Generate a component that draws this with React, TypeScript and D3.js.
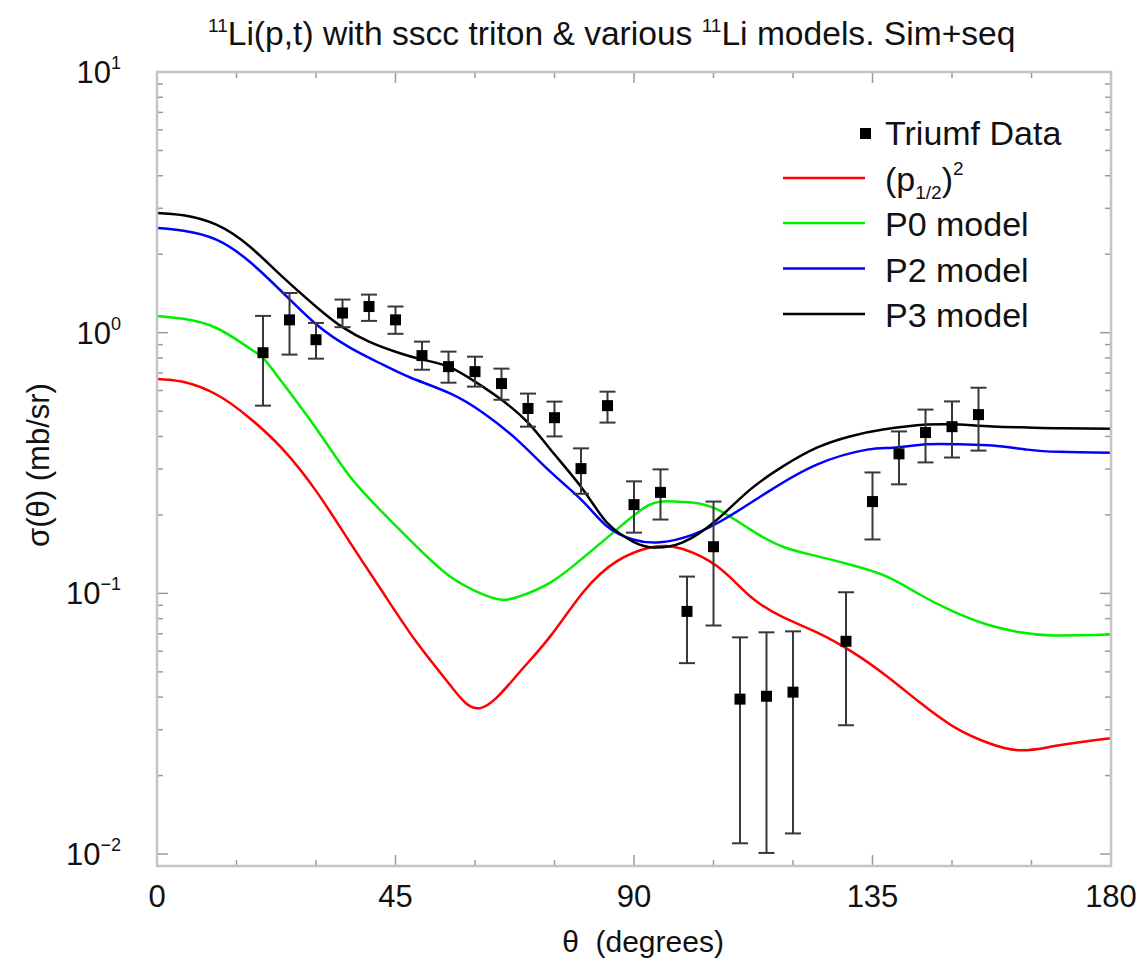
import React from "react";
import * as d3 from "d3";

// ---- data ----
const dataAngles = [20, 25, 30, 35, 40, 45, 50, 55, 60, 65, 70, 75, 80, 85, 90, 95, 100, 105, 110, 115, 120, 130, 135, 140, 145, 150, 155];
const dataValues = [0.838, 1.12, 0.94, 1.19, 1.26, 1.12, 0.817, 0.741, 0.709, 0.638, 0.512, 0.472, 0.301, 0.525, 0.219, 0.244, 0.0853, 0.151, 0.0393, 0.0403, 0.0418, 0.0655, 0.225, 0.343, 0.414, 0.436, 0.485];
const dataHigh = [1.16, 1.42, 1.09, 1.34, 1.40, 1.26, 0.924, 0.846, 0.809, 0.728, 0.584, 0.544, 0.360, 0.594, 0.269, 0.299, 0.116, 0.225, 0.0678, 0.0709, 0.0715, 0.101, 0.291, 0.418, 0.507, 0.545, 0.615];
const dataLow = [0.525, 0.824, 0.795, 1.05, 1.11, 0.99, 0.721, 0.643, 0.621, 0.553, 0.436, 0.400, 0.241, 0.452, 0.171, 0.192, 0.0540, 0.0753, 0.0110, 0.0101, 0.0120, 0.0312, 0.161, 0.262, 0.318, 0.332, 0.353];

const p3Angles = [0, 5, 11.3, 17.5, 23.8, 30.2, 35, 40, 45, 50, 55, 60, 65, 70, 74.2, 80.4, 84.9, 89.8, 93.6, 99.2, 105.7, 111.9, 118.1, 124.5, 130.7, 137, 145.3, 151.5, 157.7, 164.2, 170.4, 180];
const p3Values = [2.88, 2.82, 2.59, 2.14, 1.63, 1.25, 1.05, 0.924, 0.845, 0.789, 0.741, 0.649, 0.553, 0.452, 0.357, 0.25, 0.187, 0.158, 0.15, 0.157, 0.192, 0.25, 0.307, 0.362, 0.4, 0.425, 0.444, 0.444, 0.437, 0.433, 0.43, 0.428];

const p2Angles = [0, 5, 11.3, 17.5, 23.8, 30.2, 36.4, 42.6, 48, 55.3, 61.5, 67.9, 74.2, 80.4, 84.9, 89.8, 94.9, 101.1, 107.5, 115.1, 124.5, 134, 138.9, 145.3, 151.5, 157.7, 164.2, 170.4, 180];
const p2Values = [2.52, 2.46, 2.27, 1.87, 1.42, 1.07, 0.877, 0.754, 0.67, 0.585, 0.493, 0.389, 0.293, 0.225, 0.181, 0.161, 0.157, 0.168, 0.195, 0.244, 0.312, 0.356, 0.362, 0.373, 0.373, 0.369, 0.356, 0.349, 0.346];

const p0Angles = [0, 5, 11.3, 17.5, 20, 23, 30, 36.4, 42.6, 49, 55.3, 61.5, 65, 67.9, 74.2, 80.4, 86.8, 93, 97.7, 101, 105.7, 111.9, 118.1, 124.5, 130.7, 137.7, 143.9, 150.2, 156.6, 162.8, 169.1, 180];
const p0Values = [1.16, 1.13, 1.04, 0.87, 0.8, 0.67, 0.43, 0.281, 0.204, 0.151, 0.116, 0.0991, 0.0945, 0.0966, 0.11, 0.137, 0.176, 0.219, 0.225, 0.223, 0.21, 0.176, 0.151, 0.139, 0.129, 0.116, 0.099, 0.0853, 0.076, 0.0709, 0.069, 0.0695];

const p12Angles = [0, 4.9, 11.3, 17.5, 23.8, 30.2, 36.4, 42.6, 49, 55.3, 61, 67.9, 74.2, 80.4, 86.8, 93, 96, 99.2, 105.7, 111.9, 118.1, 124.5, 131.3, 137.7, 143.9, 150.2, 156.6, 162.8, 169.1, 175.5, 180];
const p12Values = [0.665, 0.648, 0.578, 0.47, 0.356, 0.244, 0.157, 0.101, 0.0649, 0.0445, 0.0363, 0.0485, 0.0684, 0.101, 0.133, 0.15, 0.152, 0.148, 0.127, 0.0975, 0.081, 0.0709, 0.0594, 0.0481, 0.0382, 0.0309, 0.0268, 0.025, 0.0259, 0.0271, 0.0278];

const xMajorTicks = [0, 45, 90, 135, 180];
const xMinorTicks = [15, 30, 60, 75, 105, 120, 150, 165];
const yMajorTicks = [0.01, 0.1, 1, 10];
const yTickExponents = ["−2", "−1", "0", "1"];

const seriesNames = ["P0 model", "P2 model", "P3 model"];

export default function App() {
  const W = 1140, H = 961;
  const left = 157, right = 1111, top = 72, bottom = 866;
  const x = d3.scaleLinear().domain([0, 180]).range([left, right]);
  const y = d3.scaleLog().domain([0.009, 10]).range([bottom, top]);
  const line = d3.line<[number, number]>()
    .x(d => x(d[0]))
    .y(d => y(d[1]))
    .curve(d3.curveNatural);
  const mk = (a: number[], v: number[]) => line(a.map((t, i) => [t, v[i]] as [number, number])) || "";

  const yMinor: number[] = [];
  [0.001, 0.01, 0.1, 1].forEach(base => {
    for (let k = 2; k <= 9; k++) {
      const v = base * k;
      if (v >= 0.009 && v <= 10) yMinor.push(v);
    }
  });

  const curves = [
    { a: p12Angles, v: p12Values, c: "#ff0000" },
    { a: p0Angles, v: p0Values, c: "#00ee00" },
    { a: p2Angles, v: p2Values, c: "#0000ff" },
    { a: p3Angles, v: p3Values, c: "#000000" },
  ];

  const tickColor = "#9a9a9a";
  const font = "'Liberation Sans', Arial, Helvetica, sans-serif";

  return (
    <svg width={W} height={H} style={{ position: "absolute", left: 0, top: 0, background: "#fff" }} fontFamily={font}>
      <rect x={0} y={0} width={W} height={H} fill="#fff" />
      {/* title */}
      <text x={208} y={45} fontSize={33.6} fill="#111">
        <tspan fontSize={19} dy={-13}>11</tspan>
        <tspan dy={13}>Li(p,t) with sscc triton &amp; various </tspan>
        <tspan fontSize={19} dy={-13}>11</tspan>
        <tspan dy={13}>Li models. Sim+seq</tspan>
      </text>

      {/* ticks */}
      <g stroke={tickColor} strokeWidth={1.5}>
        {xMajorTicks.map(t => (
          <g key={"xM" + t}>
            <line x1={x(t)} x2={x(t)} y1={bottom} y2={bottom - 11} />
            <line x1={x(t)} x2={x(t)} y1={top} y2={top + 11} />
          </g>
        ))}
        {xMinorTicks.map(t => (
          <g key={"xm" + t}>
            <line x1={x(t)} x2={x(t)} y1={bottom} y2={bottom - 6} />
            <line x1={x(t)} x2={x(t)} y1={top} y2={top + 6} />
          </g>
        ))}
        {yMajorTicks.map(t => (
          <g key={"yM" + t}>
            <line x1={left} x2={left + 11} y1={y(t)} y2={y(t)} />
            <line x1={right} x2={right - 11} y1={y(t)} y2={y(t)} />
          </g>
        ))}
        {yMinor.map(t => (
          <g key={"ym" + t}>
            <line x1={left} x2={left + 6} y1={y(t)} y2={y(t)} />
            <line x1={right} x2={right - 6} y1={y(t)} y2={y(t)} />
          </g>
        ))}
      </g>

      {/* curves */}
      {curves.map((c, i) => (
        <path key={i} d={mk(c.a, c.v)} fill="none" stroke={c.c} strokeWidth={2.5} />
      ))}

      {/* data with error bars */}
      <g>
        {dataAngles.map((a, i) => {
          const cx = x(a);
          return (
            <g key={"d" + i} stroke="#383838" strokeWidth={2}>
              <line x1={cx} x2={cx} y1={y(dataHigh[i])} y2={y(dataLow[i])} />
              <line x1={cx - 8} x2={cx + 8} y1={y(dataHigh[i])} y2={y(dataHigh[i])} />
              <line x1={cx - 8} x2={cx + 8} y1={y(dataLow[i])} y2={y(dataLow[i])} />
              <rect x={cx - 5.5} y={y(dataValues[i]) - 5.5} width={11} height={11} fill="#000" stroke="none" />
            </g>
          );
        })}
      </g>

      {/* frame */}
      <rect x={left} y={top} width={right - left} height={bottom - top} fill="none" stroke="#c4c4c4" strokeWidth={2.5} />

      {/* tick labels */}
      <g fontSize={31} fill="#111">
        {xMajorTicks.map(t => (
          <text key={"xl" + t} x={x(t)} y={907} textAnchor="middle">{t}</text>
        ))}
        {yMajorTicks.map((t, i) => (
          <text key={"yl" + t} x={121} y={y(t) + 11} textAnchor="end">
            <tspan>10</tspan>
            <tspan fontSize={18} dy={-14}>{yTickExponents[i]}</tspan>
          </text>
        ))}
      </g>

      {/* axis titles */}
      <text x={643} y={952} textAnchor="middle" fontSize={30} fill="#111" style={{ whiteSpace: "pre" }}>{"θ  (degrees)"}</text>
      <text transform={`translate(49,465) rotate(-90)`} textAnchor="middle" fontSize={31} fill="#111">σ(θ) (mb/sr)</text>

      {/* legend */}
      <g fontSize={34} fill="#111">
        <rect x={860} y={128} width={11} height={11} fill="#000" />
        <text x={885} y={145}>Triumf Data</text>
        <line x1={783} x2={865} y1={178} y2={178} stroke="#ff0000" strokeWidth={2.5} />
        <text x={885} y={191}>
          <tspan>(p</tspan>
          <tspan fontSize={19} dy={8}>1/2</tspan>
          <tspan dy={-8}>)</tspan>
          <tspan fontSize={19} dy={-16}>2</tspan>
        </text>
        {seriesNames.map((n, i) => (
          <g key={n}>
            <line x1={783} x2={865} y1={223 + i * 45.5} y2={223 + i * 45.5} stroke={curves[i + 1].c} strokeWidth={2.5} />
            <text x={885} y={236 + i * 45.5}>{n}</text>
          </g>
        ))}
      </g>
    </svg>
  );
}
